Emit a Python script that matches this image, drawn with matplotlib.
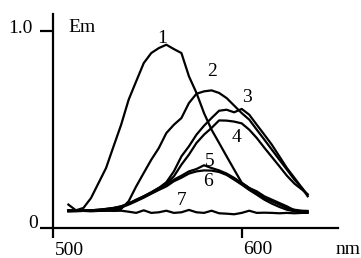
import numpy as np
from matplotlib import pyplot as plt

# wavelength grid (nm)
wl = [508, 512, 516, 520, 524, 528, 532, 536, 540, 544, 548, 552, 556, 560, 564, 568,
      572, 576, 580, 584, 588, 592, 596, 600, 604, 608, 612, 616, 620, 624, 628, 632, 635]

# emission curves 1..7 (relative units)
em1 = [0.120, 0.091, 0.103, 0.153, 0.229, 0.305, 0.415, 0.524, 0.651, 0.744, 0.836, 0.887,
       0.912, 0.929, 0.907, 0.887, 0.769, 0.685, 0.583, 0.499, 0.432, 0.364, 0.297, 0.231,
       0.204, 0.187, 0.162, 0.145, 0.128, 0.111, 0.091, 0.083, 0.081]
em2 = [0.091, 0.089, 0.091, 0.088, 0.089, 0.091, 0.094, 0.098, 0.137, 0.212, 0.280, 0.347,
       0.406, 0.482, 0.524, 0.558, 0.634, 0.681, 0.693, 0.698, 0.685, 0.659, 0.621, 0.583,
       0.550, 0.499, 0.449, 0.398, 0.347, 0.297, 0.246, 0.204, 0.170]
em3 = [0.086, 0.088, 0.089, 0.091, 0.094, 0.098, 0.103, 0.111, 0.125, 0.145, 0.162, 0.182,
       0.204, 0.233, 0.288, 0.364, 0.415, 0.474, 0.519, 0.558, 0.595, 0.600, 0.587, 0.604,
       0.575, 0.524, 0.474, 0.423, 0.364, 0.305, 0.255, 0.204, 0.162]
em4 = [0.086, 0.088, 0.089, 0.091, 0.094, 0.098, 0.103, 0.111, 0.125, 0.142, 0.159, 0.179,
       0.199, 0.226, 0.263, 0.322, 0.373, 0.432, 0.474, 0.508, 0.546, 0.545, 0.540, 0.531,
       0.499, 0.457, 0.408, 0.361, 0.314, 0.266, 0.226, 0.196, 0.172]
em5 = [0.091, 0.089, 0.089, 0.088, 0.089, 0.091, 0.098, 0.108, 0.125, 0.142, 0.162, 0.182,
       0.204, 0.221, 0.246, 0.266, 0.288, 0.300, 0.319, 0.305, 0.293, 0.277, 0.255, 0.229,
       0.204, 0.179, 0.153, 0.137, 0.120, 0.103, 0.094, 0.089, 0.088]
em6 = [0.091, 0.089, 0.089, 0.088, 0.089, 0.091, 0.096, 0.105, 0.120, 0.137, 0.155, 0.175,
       0.194, 0.212, 0.238, 0.256, 0.277, 0.288, 0.293, 0.292, 0.285, 0.270, 0.246, 0.221,
       0.194, 0.170, 0.145, 0.125, 0.108, 0.094, 0.086, 0.083, 0.083]
em7 = [0.088, 0.086, 0.088, 0.086, 0.088, 0.089, 0.088, 0.089, 0.084, 0.078, 0.091, 0.078,
       0.081, 0.089, 0.078, 0.081, 0.093, 0.081, 0.078, 0.089, 0.076, 0.074, 0.071, 0.078,
       0.089, 0.078, 0.079, 0.078, 0.076, 0.078, 0.076, 0.078, 0.078]
curves = [em1, em2, em3, em4, em5, em6, em7]

# curve number labels
curve_names = ["1", "2", "3", "4", "5", "6", "7"]
label_x = [557.7, 584.2, 602.8, 597.5, 583.2, 582.1, 568.3]
label_y = [0.963, 0.791, 0.664, 0.462, 0.336, 0.236, 0.143]

xticks = [500, 600]
xticklabels = ["500", "600"]
yticks = [0, 1.0]
yticklabels = ["0", "1.0"]

plt.rcParams['font.family'] = ['Liberation Serif', 'DejaVu Serif']
fs = 14

fig = plt.figure(figsize=(3.61, 2.58), dpi=100)
ax = fig.add_axes([0.09546, 0.00023, 0.88720, 0.99566])
ax.set_xlim(490, 660)
ax.set_ylim(-0.15, 1.15)

for em in curves:
    ax.plot(wl, em, '-k', lw=1.6, solid_joinstyle='round')

for name, lx, ly in zip(curve_names, label_x, label_y):
    ax.text(lx, ly, name, ha='center', va='center', fontsize=fs)

# axes as in the figure: crossing lines with outward ticks
for s in ['top', 'right']:
    ax.spines[s].set_visible(False)
ax.spines['left'].set_position(('data', 500))
ax.spines['bottom'].set_position(('data', 0))
ax.spines['left'].set_bounds(0, 1.085)
ax.spines['bottom'].set_bounds(500, 651)
ax.spines['left'].set_linewidth(1.6)
ax.spines['bottom'].set_linewidth(1.6)
ax.set_xticks(xticks)
ax.set_yticks(yticks)
ax.tick_params(axis='x', direction='out', length=7.2, width=1.6, labelbottom=False)
ax.tick_params(axis='y', direction='out', length=9.4, width=1.6, labelleft=False)

# tick labels sit beside the ticks, placed by hand
x_offsets = [(2, -26.7), (1, -26)]
for v, lab, (dx, dy) in zip(xticks, xticklabels, x_offsets):
    ax.annotate(lab, xy=(v, 0), xytext=(dx, dy), textcoords='offset pixels',
                ha='left', va='baseline', fontsize=fs)
y_offsets = [(-15, 0.6), (-20.3, -2)]
for v, lab, (dx, dy) in zip(yticks, yticklabels, y_offsets):
    ax.annotate(lab, xy=(500, v), xytext=(dx, dy), textcoords='offset pixels',
                ha='right', va='baseline', fontsize=fs)

ax.text(507.8, 0.994, "Em", ha='left', va='baseline', fontsize=fs)
ax.text(649.8, -0.132, "nm", ha='left', va='baseline', fontsize=fs)

fig.savefig("out.png", dpi=100)
